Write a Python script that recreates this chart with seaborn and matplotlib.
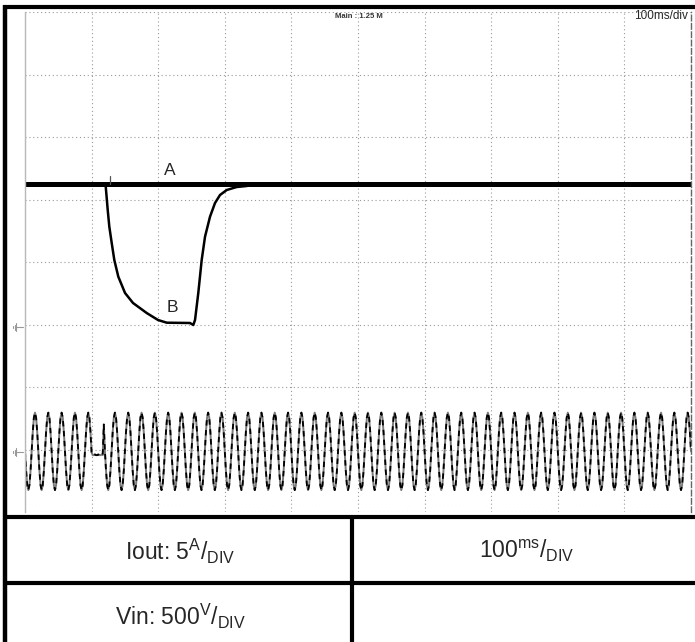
import numpy as np
import pandas as pd
import matplotlib
matplotlib.use("Agg")
import matplotlib.pyplot as plt
import seaborn as sns

# --- data (scope divisions: x 0..10 = 100 ms/div, y -4..4) ---
# trace A: steady output current
a_t = [0.0, 10.0]
a_v = [1.25, 1.25]
a_spike_t = [1.27, 1.27]
a_spike_v = [1.25, 1.37]

# trace B: output current sag during the input dropout
b_t = [1.209, 1.242, 1.266, 1.302, 1.341, 1.401, 1.502, 1.622, 1.827, 1.997,
       2.128, 2.477, 2.527, 2.553, 2.602, 2.653, 2.703, 2.778, 2.853, 2.928,
       3.029, 3.179, 3.329, 3.408]
b_v = [1.248, 0.832, 0.565, 0.304, 0.032, -0.235, -0.496, -0.656, -0.816, -0.928,
       -0.971, -0.976, -1.008, -0.928, -0.496, 0.032, 0.405, 0.725, 0.944, 1.072,
       1.152, 1.200, 1.216, 1.240]

# trace Vin: mains, one cycle = 0.2 div (20 ms), shape of one cycle
vin_offset = -3.03
vin_cycle = [0.0, -0.31, -0.54, -0.62, -0.54, -0.31, 0.0, 0.31, 0.54, 0.62, 0.54, 0.31]
vin_dropout_cycle = [-0.02, -0.06, -0.06, -0.05, -0.06, -0.06, -0.05, -0.06, -0.06, -0.05, -0.06, 0.43]
vin_period = 0.2
vin_n_cycles = 50
vin_dropout_index = 5

cycles = [vin_dropout_cycle if i == vin_dropout_index else vin_cycle for i in range(vin_n_cycles)]
vin_v = np.array(sum(cycles, []) + [vin_cycle[0]]) + vin_offset
vin_t = np.arange(len(vin_v)) * vin_period / len(vin_cycle)

df_b = pd.DataFrame({"t": b_t, "v": b_v})
df_vin = pd.DataFrame({"t": vin_t, "v": vin_v})

# --- figure ---
sns.set_theme(style="white")
plt.rcParams["font.family"] = ["Liberation Sans", "DejaVu Sans"]
plt.rcParams["mathtext.fontset"] = "custom"
plt.rcParams["mathtext.rm"] = "Liberation Sans"
plt.rcParams["mathtext.it"] = "Liberation Sans:italic"
plt.rcParams["mathtext.bf"] = "Liberation Sans:bold"

W, H = 695, 642
fig = plt.figure(figsize=(W / 100, H / 100), dpi=100)

# background frame in pixel coords
bg = fig.add_axes([0, 0, 1, 1])
bg.set_xlim(0, W)
bg.set_ylim(H, 0)
bg.axis("off")
bg.plot([5, 5], [5, H], color="black", lw=3.2, solid_capstyle="butt")
bg.plot([3, W], [6.5, 6.5], color="black", lw=3.0, solid_capstyle="butt")
bg.plot([3, W], [517, 517], color="black", lw=3.0, solid_capstyle="butt")
bg.plot([3, W], [583, 583], color="black", lw=3.0, solid_capstyle="butt")
bg.plot([352, 352], [517, H], color="black", lw=3.0, solid_capstyle="butt")

# ground markers
for gy in [327, 452]:
    bg.plot([16, 23], [gy, gy], color="#999", lw=0.8)
    bg.plot([16, 16], [gy - 4, gy + 4], color="#999", lw=0.8)
    bg.plot([14.5, 14.5], [gy - 2.5, gy + 2.5], color="#999", lw=0.8)
    bg.plot([13, 13], [gy - 1, gy + 1], color="#999", lw=0.8)

# table texts
bg.text(180, 551, r"Iout: 5$^{\mathrm{A}}$/$_{\mathrm{DIV}}$", ha="center", va="center", fontsize=16.5)
bg.text(527, 551, r"100$^{\mathrm{ms}}$/$_{\mathrm{DIV}}$", ha="center", va="center", fontsize=16.5)
bg.text(180, 616, r"Vin: 500$^{\mathrm{V}}$/$_{\mathrm{DIV}}$", ha="center", va="center", fontsize=16.5)

# scope screen
ax = fig.add_axes([25 / W, 1 - 512 / H, 666 / W, 500 / H])
ax.set_xlim(0, 10)
ax.set_ylim(-4, 4)
ax.set_xticks(range(0, 11))
ax.set_yticks(range(-4, 5))
ax.tick_params(length=0, labelbottom=False, labelleft=False)
ax.grid(True, color="#9a9a9a", linestyle=(0, (1, 2.5)), lw=0.8)
ax.patch.set_alpha(0)
for s in ["top", "bottom"]:
    ax.spines[s].set_visible(False)
ax.spines["left"].set_color("#b8b8b8")
ax.spines["left"].set_linewidth(1.0)
ax.spines["right"].set_color("#666")
ax.spines["right"].set_linestyle((0, (4, 2)))
ax.spines["right"].set_linewidth(1.0)

sns.lineplot(data=df_vin, x="t", y="v", ax=ax, color="#7a7a7a", lw=1.4, sort=False, estimator=None)
ax.plot(vin_t, vin_v, color="black", lw=1.3, linestyle=(0, (3, 2.5)))
ax.plot(a_t, a_v, color="black", lw=3.6, solid_capstyle="butt")
ax.plot(a_spike_t, a_spike_v, color="#555", lw=0.9)
sns.lineplot(data=df_b, x="t", y="v", ax=ax, color="black", lw=1.8, sort=False, estimator=None)
ax.set_xlabel("")
ax.set_ylabel("")

ax.text(2.18, 1.47, "A", ha="center", va="center", fontsize=12.5)
ax.text(2.21, -0.72, "B", ha="center", va="center", fontsize=12.5)
ax.text(5.02, 3.93, "Main : 1.25 M", ha="center", va="center", fontsize=5.5,
        fontweight="bold", color="#333")
ax.text(9.96, 3.93, "100ms/div", ha="right", va="center", fontsize=8.5,
        family=["Liberation Sans Narrow", "Liberation Sans", "DejaVu Sans"])

fig.savefig("out.png", dpi=100)
